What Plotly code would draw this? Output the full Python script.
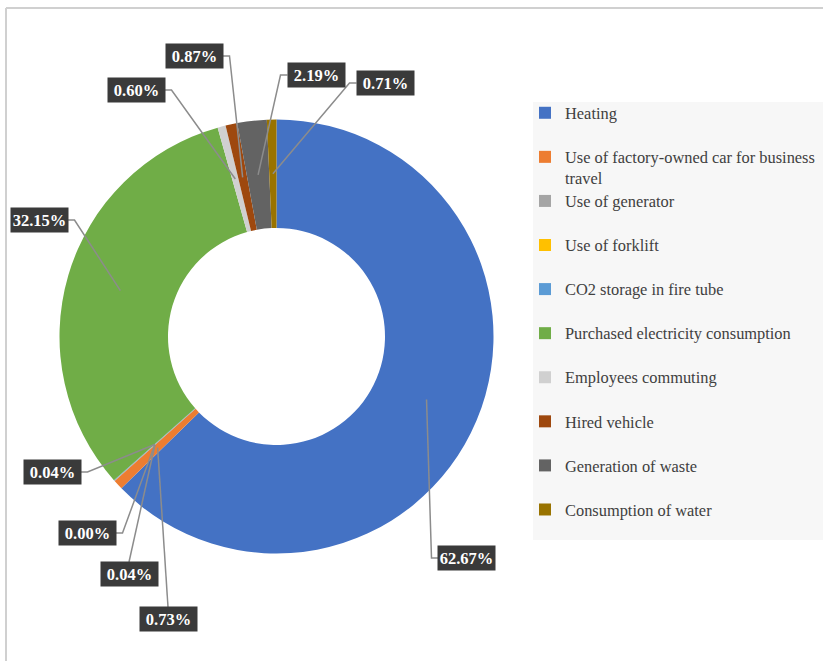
import math
import plotly.graph_objects as go

# ---------------- data ----------------
categories = [
    "Heating",
    "Use of factory-owned car for business travel",
    "Use of generator",
    "Use of forklift",
    "CO2 storage in fire tube",
    "Purchased electricity consumption",
    "Employees commuting",
    "Hired vehicle",
    "Generation of waste",
    "Consumption of water",
]
shares = [62.67, 0.73, 0.04, 0.00, 0.04, 32.15, 0.60, 0.87, 2.19, 0.71]
legend_labels = [
    "Heating",
    "Use of factory-owned car for business<br>travel",
    "Use of generator",
    "Use of forklift",
    "CO2 storage in fire tube",
    "Purchased electricity consumption",
    "Employees commuting",
    "Hired vehicle",
    "Generation of waste",
    "Consumption of water",
]
colors = ["#4472C4", "#ED7D31", "#A5A5A5", "#FFC000", "#5B9BD5",
          "#70AD47", "#D0D0D0", "#9E480E", "#636363", "#997300"]

# ---------------- layout helpers ----------------
W, H = 823, 661
CX, CY, R = 276.5, 336.5, 217.0
HOLE = 0.5

def px(x):
    return x / W

def py(y):
    return 1 - y / H

# label box centres (pixels) and side from which leader leaves
label_pos = [
    (467, 558, "l"),
    (168, 619, "t"),
    (129, 574, "t"),
    (87, 533, "r"),
    (52, 472, "r"),
    (39, 220, "r"),
    (136, 90, "r"),
    (194, 56, "r"),
    (316, 75, "l"),
    (385, 83, "l"),
]
BOX_W, BOX_H = 57, 24

value_text = ["{:.2f}%".format(v) for v in shares]

display_labels = []
for lab in legend_labels:
    parts = lab.split("<br>")
    styled = "<br>".join('<span style="font-size:16.4px">{}</span>'.format(p) for p in parts)
    display_labels.append(styled if len(parts) > 1 else styled + "<br> ")

fig = go.Figure()
fig.add_trace(go.Pie(
    labels=display_labels,
    values=shares,
    sort=False,
    direction="clockwise",
    rotation=0,
    hole=HOLE,
    marker=dict(colors=colors, line=dict(width=0)),
    textinfo="none",
    hoverinfo="label+percent",
    domain=dict(x=[px(CX - R), px(CX + R)], y=[py(CY + R), py(CY - R)]),
    showlegend=True,
))

shapes = []
# frame
shapes.append(dict(type="line", xref="paper", yref="paper",
                   x0=px(6), x1=px(6), y0=py(8), y1=0,
                   line=dict(color="#D0D0D0", width=2)))
shapes.append(dict(type="line", xref="paper", yref="paper",
                   x0=px(6), x1=1, y0=py(8), y1=py(8),
                   line=dict(color="#D0D0D0", width=2)))
# legend background
shapes.append(dict(type="rect", xref="paper", yref="paper", layer="below",
                   x0=px(533), x1=1, y0=py(540), y1=py(102),
                   fillcolor="#F7F7F7", line=dict(width=0)))

annotations = []
total = sum(shares)
cum = 0.0
r_mid = R * (1 + HOLE) / 2
for i, v in enumerate(shares):
    mid = (cum + v / 2) / total
    cum += v
    ang = 2 * math.pi * mid
    ex = CX + r_mid * math.sin(ang)
    ey = CY - r_mid * math.cos(ang)
    lx, ly, side = label_pos[i]
    if side == "r":
        x0, y0 = lx + BOX_W / 2, ly
        x1, y1 = x0 + 7, y0
    elif side == "l":
        x0, y0 = lx - BOX_W / 2, ly
        x1, y1 = x0 - 7, y0
    else:
        x0, y0 = lx, ly - BOX_H / 2
        x1, y1 = x0, y0
    path = "M {},{} L {},{} L {},{}".format(px(x0), py(y0), px(x1), py(y1), px(ex), py(ey))
    shapes.append(dict(type="path", xref="paper", yref="paper", path=path,
                       line=dict(color="#8C8C8C", width=1.5)))
    annotations.append(dict(
        x=px(lx), y=py(ly), xref="paper", yref="paper",
        xanchor="center", yanchor="middle", showarrow=False,
        text="<b>{}</b>".format(value_text[i]),
        font=dict(family="Liberation Serif", size=16.5, color="white"),
        bgcolor="#3A3A3A", width=BOX_W - 2, height=BOX_H - 2, borderpad=1,
    ))

fig.update_layout(
    width=W, height=H,
    margin=dict(l=0, r=0, t=0, b=0),
    paper_bgcolor="white",
    plot_bgcolor="white",
    shapes=shapes,
    annotations=annotations,
    legend=dict(
        x=px(525), y=py(96), xanchor="left", yanchor="top",
        bgcolor="rgba(0,0,0,0)",
        font=dict(family="Liberation Serif", size=15.8, color="#404040"),
        valign="top",
        traceorder="normal",
    ),
)

fig.write_html("out.html")
